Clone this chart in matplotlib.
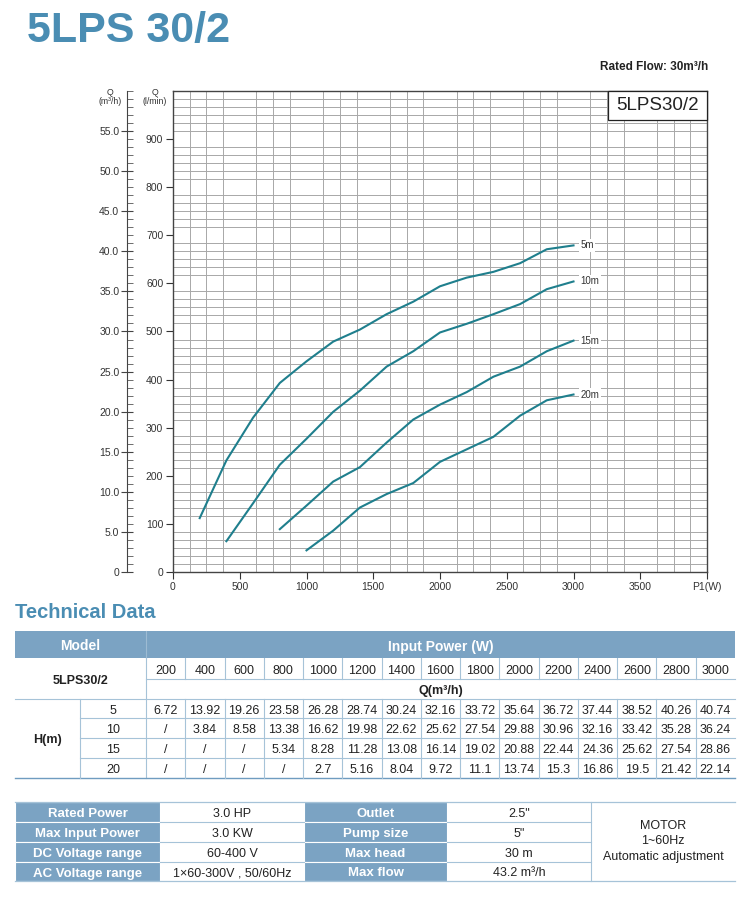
import numpy as np
import matplotlib
matplotlib.use('Agg')
import matplotlib.pyplot as plt
from matplotlib import font_manager
from matplotlib.patches import Rectangle

# ---- data ----
power = [200, 400, 600, 800, 1000, 1200, 1400, 1600, 1800, 2000, 2200, 2400, 2600, 2800, 3000]
heads = ['5', '10', '15', '20']
q_5m = [6.72, 13.92, 19.26, 23.58, 26.28, 28.74, 30.24, 32.16, 33.72, 35.64, 36.72, 37.44, 38.52, 40.26, 40.74]
q_10m = [np.nan, 3.84, 8.58, 13.38, 16.62, 19.98, 22.62, 25.62, 27.54, 29.88, 30.96, 32.16, 33.42, 35.28, 36.24]
q_15m = [np.nan, np.nan, np.nan, 5.34, 8.28, 11.28, 13.08, 16.14, 19.02, 20.88, 22.44, 24.36, 25.62, 27.54, 28.86]
q_20m = [np.nan, np.nan, np.nan, np.nan, 2.7, 5.16, 8.04, 9.72, 11.1, 13.74, 15.3, 16.86, 19.5, 21.42, 22.14]
curve_labels = ['5m', '10m', '15m', '20m']

x_ticks = [0, 500, 1000, 1500, 2000, 2500, 3000, 3500, 4000]
x_ticklabels = ['0', '500', '1000', '1500', '2000', '2500', '3000', '3500', 'P1(W)']
lmin_ticks = [0, 100, 200, 300, 400, 500, 600, 700, 800, 900]
m3h_ticks = [0, 5, 10, 15, 20, 25, 30, 35, 40, 45, 50, 55]

spec_labels_a = ['Rated Power', 'Max Input Power', 'DC Voltage range', 'AC Voltage range']
spec_values_a = ['3.0 HP', '3.0 KW', '60-400 V', '1×60-300V , 50/60Hz']
spec_labels_b = ['Outlet', 'Pump size', 'Max head', 'Max flow']
spec_values_b = ['2.5"', '5"', '30 m', '43.2 m³/h']
motor_text = 'MOTOR\n1~60Hz\nAutomatic adjustment'

names = {f.name for f in font_manager.fontManager.ttflist}
NARROW = 'Liberation Sans Narrow' if 'Liberation Sans Narrow' in names else 'Liberation Sans'
plt.rcParams['font.family'] = ['Liberation Sans', 'DejaVu Sans']

BLUE_T = '#4a8db3'
HEAD = '#7ba3c3'
LINE = '#a6c3d8'
LINE_D = '#6f9cc0'
CURVE = '#1f7f8d'
TXT = '#222222'

W, H = 750, 897
fig = plt.figure(figsize=(7.5, 8.97), dpi=100)


def box(x0, y0, x1, y1):
    return [x0 / W, 1 - y1 / H, (x1 - x0) / W, (y1 - y0) / H]


# ---- chart ----
ax = fig.add_axes(box(173, 91, 707, 572))
ax.set_xlim(0, 4000)
ax.set_ylim(0, 60)
ax.set_xticks(x_ticks)
ax.set_xticklabels(x_ticklabels)
ax.set_xticks(np.arange(0, 4001, 125), minor=True)
ax.set_yticks([v * 0.06 for v in lmin_ticks])
ax.set_yticklabels([str(v) for v in lmin_ticks])
ax.set_yticks(np.arange(0, 61, 1), minor=True)
ax.grid(which='minor', color='#a8a8a8', lw=0.7)
ax.tick_params(which='minor', length=0)
ax.tick_params(which='major', length=5, width=0.8, color='#333333',
               labelsize=7.5, labelcolor='#333333', pad=2)
for s in ax.spines.values():
    s.set_color('#444444')
    s.set_linewidth(1.0)
ax.set_axisbelow(True)

for q, lab in zip([q_5m, q_10m, q_15m, q_20m], curve_labels):
    ax.plot(power, q, color=CURVE, lw=1.5, zorder=3, solid_joinstyle='round')
    ax.text(3050, q[-1], lab, fontsize=7, color='#333333', ha='left', va='center',
            bbox=dict(boxstyle='square,pad=0.15', fc='white', ec='none'), zorder=4)

ax.add_patch(Rectangle((0.815, 0.94), 0.185, 0.06, transform=ax.transAxes,
                       fc='white', ec='#222222', lw=0.9, zorder=5, clip_on=False))
ax.text(0.9075, 0.97, '5LPS30/2', transform=ax.transAxes, fontsize=13.5,
        ha='center', va='center', color=TXT, zorder=6)

# second y axis in m3/h
axq = fig.add_axes(box(127, 91, 127.5, 572))
axq.set_ylim(0, 60)
axq.set_xticks([])
for k in ['top', 'right', 'bottom']:
    axq.spines[k].set_visible(False)
axq.spines['left'].set_color('#444444')
axq.set_yticks(m3h_ticks)
axq.set_yticklabels(['0'] + ['%.1f' % v for v in m3h_ticks[1:]])
axq.set_yticks(np.arange(0, 61, 1), minor=True)
axq.tick_params(which='major', direction='inout', length=9, width=0.8, color='#444444',
                labelsize=7.5, labelcolor='#333333', pad=1)
axq.tick_params(which='minor', direction='in', length=4, width=0.6, color='#555555')

# ---- overlay in pixel coords ----
ov = fig.add_axes([0, 0, 1, 1], zorder=-1)
ov.set_xlim(0, W)
ov.set_ylim(H, 0)
ov.axis('off')

ov.text(27, 31, '5LPS 30/2', family=NARROW, fontweight='bold', fontsize=31,
        color=BLUE_T, ha='left', va='center')
ov.text(708, 67, 'Rated Flow: 30m³/h', family=NARROW, fontweight='bold', fontsize=8.5,
        color=TXT, ha='right', va='center')
ov.text(110, 97, 'Q\n(m³/h)', fontsize=6.3, ha='center', va='center', color='#333333',
        linespacing=1.0)
ov.text(155, 97, 'Q\n(l/min)', fontsize=6.3, ha='center', va='center', color='#333333',
        linespacing=1.0)
ov.text(15, 612, 'Technical Data', family=NARROW, fontweight='bold', fontsize=14.5,
        color=BLUE_T, ha='left', va='center')


def cell_text(x, y, s, bold=False, size=9, color=TXT, family=NARROW):
    ov.text(x, y + 0.5, s, family=family, fontweight='bold' if bold else 'normal',
            fontsize=size, color=color, ha='center', va='center_baseline')


# table 1
L, R = 15, 735
xm, xh = 146, 80
ytop, yhead, ypow, yq = 631, 658, 679, 699
yrows = [699, 718.5, 738, 758, 778]
ncol = len(power)
cw = (R - xm) / ncol
ov.add_patch(Rectangle((L, ytop), R - L, yhead - ytop, fc=HEAD, ec='none'))
ov.plot([xm, xm], [ytop, yhead], color='#9dbbd3', lw=0.8)
cell_text((L + xm) / 2, (ytop + yhead) / 2, 'Model', bold=True, size=10, color='white')
cell_text((xm + R) / 2, (ytop + yhead) / 2, 'Input Power (W)', bold=True, size=10,
          color='white')
ov.plot([xm, xm], [yhead, yrows[-1]], color=LINE, lw=0.8)
ov.plot([xm, R], [ypow, ypow], color=LINE, lw=0.8)
ov.plot([L, R], [yq, yq], color=LINE, lw=0.8)
for y in yrows[1:-1]:
    ov.plot([xh, R], [y, y], color=LINE, lw=0.8)
ov.plot([L, R], [yrows[-1], yrows[-1]], color=LINE_D, lw=1.0)
ov.plot([xh, xh], [yrows[0], yrows[-1]], color=LINE, lw=0.8)
for i in range(1, ncol):
    xx = xm + i * cw
    ov.plot([xx, xx], [yhead, ypow], color=LINE, lw=0.8)
    ov.plot([xx, xx], [yrows[0], yrows[-1]], color=LINE, lw=0.8)
for i, p in enumerate(power):
    cell_text(xm + (i + 0.5) * cw, (yhead + ypow) / 2, str(p))
cell_text((L + xm) / 2, (yhead + yq) / 2, '5LPS30/2', bold=True)
cell_text((xm + R) / 2, (ypow + yq) / 2, 'Q(m³/h)', bold=True)
cell_text((L + xh) / 2, (yrows[0] + yrows[-1]) / 2, 'H(m)', bold=True)
for r, (hd, q) in enumerate(zip(heads, [q_5m, q_10m, q_15m, q_20m])):
    yc = (yrows[r] + yrows[r + 1]) / 2
    cell_text((xh + xm) / 2, yc, hd)
    for i, v in enumerate(q):
        s = '/' if np.isnan(v) else ('%g' % v)
        cell_text(xm + (i + 0.5) * cw, yc, s)

# table 2
cols = [15, 160, 304, 447, 591, 735]
rows2 = [802, 822, 842, 862, 881]
for r in range(4):
    for c in (0, 2):
        ov.add_patch(Rectangle((cols[c], rows2[r]), cols[c + 1] - cols[c],
                               rows2[r + 1] - rows2[r], fc=HEAD, ec='white', lw=0.8))
ov.plot([L, R], [rows2[0], rows2[0]], color=LINE, lw=0.9)
ov.plot([L, R], [rows2[-1], rows2[-1]], color=LINE, lw=0.9)
for y in rows2[1:-1]:
    ov.plot([cols[1], cols[2]], [y, y], color=LINE, lw=0.8)
    ov.plot([cols[3], cols[4]], [y, y], color=LINE, lw=0.8)
ov.plot([cols[4], cols[4]], [rows2[0], rows2[-1]], color=LINE, lw=0.8)
for r in range(4):
    yc = (rows2[r] + rows2[r + 1]) / 2
    cell_text((cols[0] + cols[1]) / 2, yc, spec_labels_a[r], bold=True, size=9.5,
              color='white')
    cell_text((cols[1] + cols[2]) / 2, yc, spec_values_a[r])
    cell_text((cols[2] + cols[3]) / 2, yc, spec_labels_b[r], bold=True, size=9.5,
              color='white')
    cell_text((cols[3] + cols[4]) / 2, yc, spec_values_b[r])
ov.text((cols[4] + cols[5]) / 2, (rows2[0] + rows2[-1]) / 2, motor_text,
        fontsize=9, color=TXT, ha='center', va='center', linespacing=1.35)

fig.savefig('out.png', dpi=100)
